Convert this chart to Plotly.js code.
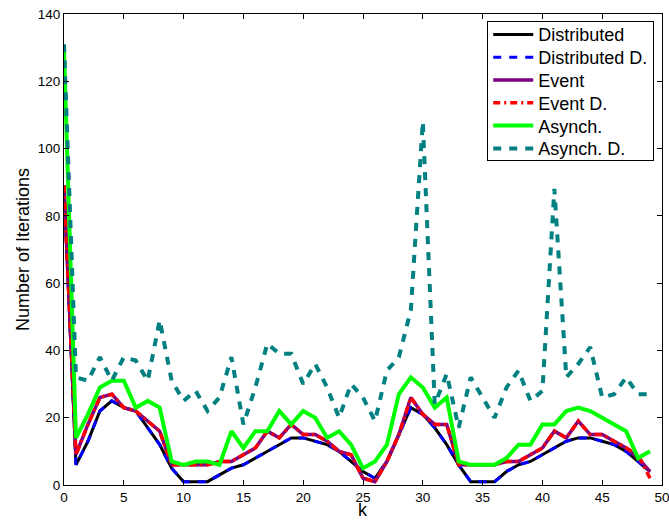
<!DOCTYPE html>
<html>
<head>
<meta charset="utf-8">
<script src="https://cdn.plot.ly/plotly-3.0.1.min.js"></script>
<style>html,body{margin:0;padding:0;background:#fff;}#chart{width:669px;height:522px;}</style>
</head>
<body>
<div id="chart"></div>
<script>
const k = [];
for (let i = 0; i < 50; i++) k.push(i);

const distributed = [89, 6, 13, 22, 25, 23, 22, 17, 12, 5,
  1, 1, 1, 3, 5, 6, 8, 10, 12, 14,
  14, 13, 12, 10, 7, 4, 2, 7, 15, 23,
  21, 17, 12, 6, 1, 1, 1, 4, 6, 7,
  9, 11, 13, 14, 14, 13, 12, 10, 7, 4];
const distributedD = [89, 6, 13, 22, 25, 23, 22, 17, 12, 5,
  1, 1, 1, 3, 5, 6, 8, 10, 12, 14,
  14, 13, 12, 10, 7, 4, 2, 7, 15, 23,
  21, 17, 12, 6, 1, 1, 1, 4, 6, 7,
  9, 11, 13, 14, 14, 13, 12, 10, 7, 4];
const eventS = [89, 9, 18, 26, 27, 23, 22, 19, 16, 6,
  6, 6, 6, 7, 7, 9, 11, 16, 14, 18,
  15, 15, 13, 10, 9, 2, 1, 7, 15, 26,
  21, 18, 18, 6, 6, 6, 6, 7, 7, 9,
  11, 16, 14, 19, 15, 15, 13, 11, 8, 4];
const eventD = [89, 9, 18, 26, 27, 23, 22, 19, 16, 6,
  6, 6, 6, 7, 7, 9, 11, 16, 14, 18,
  15, 15, 13, 10, 9, 2, 1, 7, 15, 26,
  21, 18, 18, 6, 6, 6, 6, 7, 7, 9,
  11, 16, 14, 19, 15, 15, 13, 11, 9, 2];
const asynch = [129, 14, 21, 29, 31, 31, 23, 25, 23, 7,
  6, 7, 7, 6, 16, 11, 16, 16, 22, 18,
  22, 20, 14, 16, 12, 5, 7, 12, 27, 32,
  29, 23, 26, 7, 6, 6, 6, 8, 12, 12,
  18, 18, 22, 23, 22, 20, 18, 16, 8, 10];
const asynchD = [131, 32, 31, 38, 31, 38, 37, 31, 49, 31,
  25, 28, 22, 26, 38, 18, 29, 42, 39, 39,
  30, 36, 29, 20, 30, 26, 19, 34, 38, 52,
  108, 24, 33, 17, 32, 26, 20, 29, 34, 25,
  28, 88, 32, 36, 41, 26, 27, 32, 27, 27];

const names = ['Distributed', 'Distributed D.', 'Event', 'Event D.', 'Asynch.', 'Asynch. D.'];
const xTitle = 'k';
const yTitle = 'Number of Iterations';
const FONT = 'Liberation Sans, Arial, Helvetica, sans-serif';

const traces = [
  {x: k, y: distributed, name: names[0], line: {color: '#000000', width: 3}},
  {x: k, y: distributedD, name: names[1], line: {color: '#0000FF', width: 3, dash: '8px,8px'}},
  {x: k, y: eventS, name: names[2], line: {color: '#800080', width: 3.5}},
  {x: k, y: eventD, name: names[3], line: {color: '#FF0000', width: 3.5, dash: '7px,4px,2px,4px'}},
  {x: k, y: asynch, name: names[4], line: {color: '#00FF00', width: 4}},
  {x: k, y: asynchD, name: names[5], line: {color: '#008080', width: 4, dash: '8px,8px'}}
].map(t => Object.assign({type: 'scatter', mode: 'lines'}, t));

const layout = {
  width: 669, height: 522,
  margin: {l: 64, r: 7, t: 14, b: 37, pad: 0},
  paper_bgcolor: '#ffffff', plot_bgcolor: '#ffffff',
  font: {family: FONT, color: '#000000', size: 13},
  showlegend: true,
  legend: {
    x: 0.987, y: 0.986, xanchor: 'right', yanchor: 'top',
    bgcolor: '#ffffff', bordercolor: '#000000', borderwidth: 1,
    font: {family: FONT, size: 18, color: '#000000'},
    itemwidth: 40, tracegroupgap: 0
  },
  xaxis: {
    range: [0, 50], tickmode: 'array', tickvals: [0, 5, 10, 15, 20, 25, 30, 35, 40, 45, 50],
    ticks: 'inside', ticklen: 5, tickcolor: '#000', mirror: 'ticks',
    showline: true, linecolor: '#000', linewidth: 1, showgrid: false, zeroline: false,
    ticklabeloverflow: 'allow',
    tickfont: {size: 13.5, family: FONT}
  },
  yaxis: {
    range: [0, 140], tickmode: 'array', tickvals: [0, 20, 40, 60, 80, 100, 120, 140],
    ticks: 'inside', ticklen: 5, tickcolor: '#000', mirror: 'ticks',
    showline: true, linecolor: '#000', linewidth: 1, showgrid: false, zeroline: false,
    ticklabeloverflow: 'allow',
    tickfont: {size: 13.5, family: FONT},
    title: {text: yTitle, font: {size: 18, family: FONT}, standoff: 3}
  },
  annotations: [{
    text: xTitle, xref: 'paper', yref: 'paper', x: 0.5, y: -0.0764,
    xanchor: 'center', yanchor: 'bottom', showarrow: false, borderpad: 0,
    font: {size: 18, family: FONT, color: '#000000'}
  }]
};

function tightenLegend(gd) {
  const items = gd.querySelectorAll('.legend .traces');
  if (!items.length) return;
  const parse = el => {
    const m = /translate\(\s*([-\d.eE]+)[ ,]+([-\d.eE]+)\s*\)/.exec(el.getAttribute('transform') || '');
    return m ? [parseFloat(m[1]), parseFloat(m[2])] : null;
  };
  const p0 = parse(items[0]);
  if (!p0) return;
  const rowGap = 22.8, firstShift = -5.4;
  items.forEach((el, i) => {
    const p = parse(el) || p0;
    el.setAttribute('transform', 'translate(' + p[0] + ',' + (p0[1] + firstShift + i * rowGap) + ')');
  });
  const bg = gd.querySelector('.legend .bg');
  if (bg) bg.setAttribute('height', 139);
}

Plotly.newPlot('chart', traces, layout, {displayModeBar: false, staticPlot: true}).then(tightenLegend);
</script>
</body>
</html>
